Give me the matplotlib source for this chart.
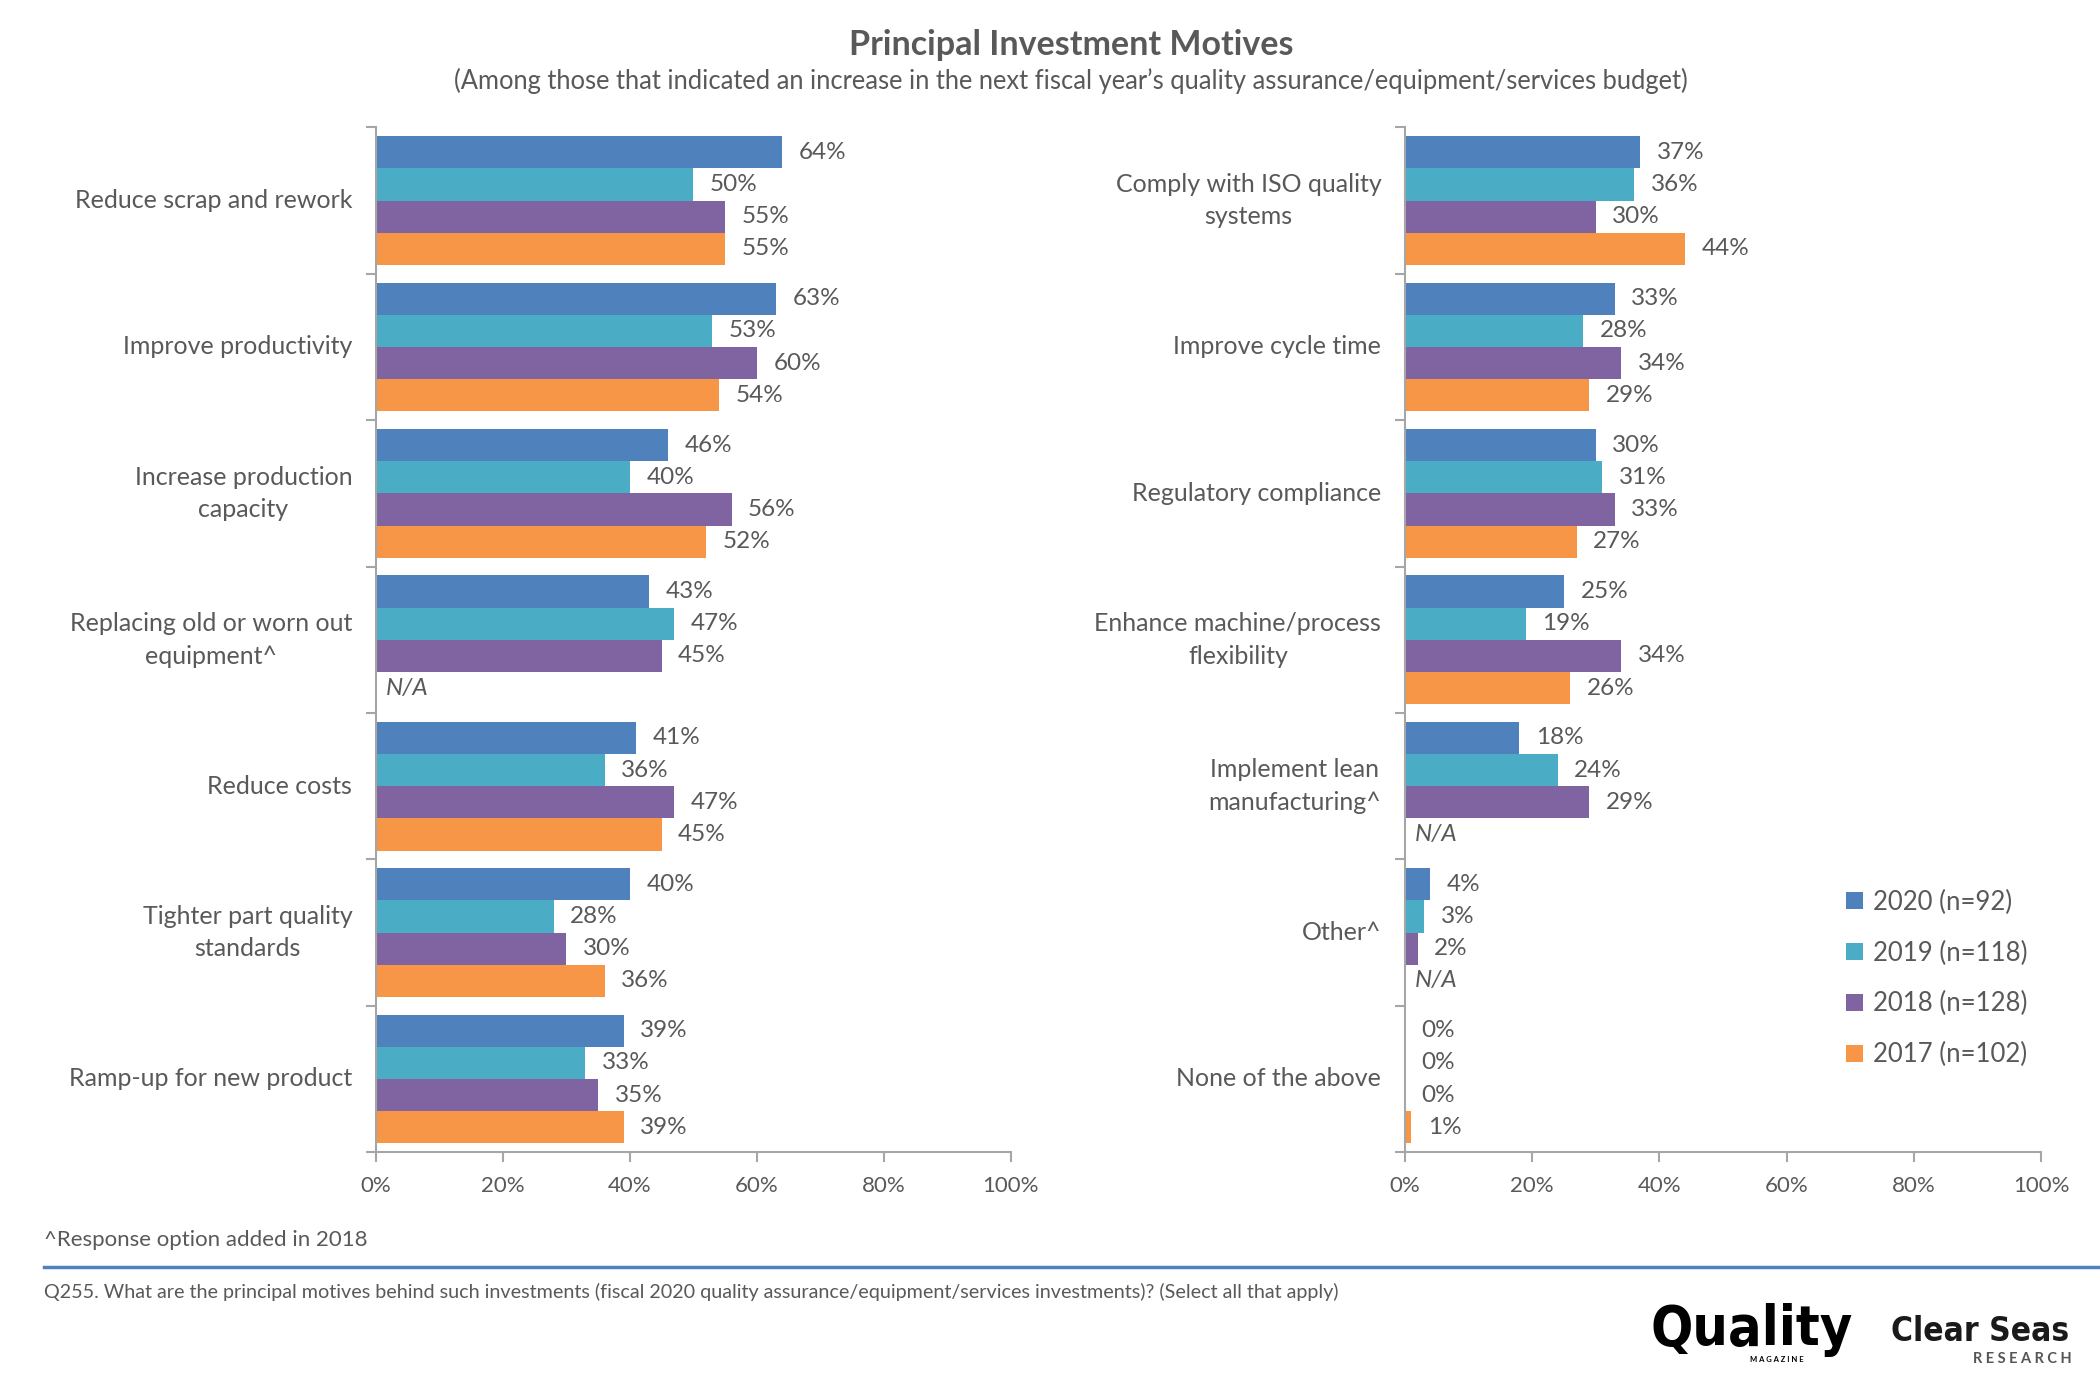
import matplotlib
matplotlib.use("Agg")
import matplotlib.pyplot as plt
from matplotlib.patches import Patch
import numpy as np

plt.rcParams['font.family'] = ['Lato', 'DejaVu Sans']

# data
years = ['2020 (n=92)', '2019 (n=118)', '2018 (n=128)', '2017 (n=102)']
colors = ['#4F81BD', '#4BACC6', '#8064A2', '#F79646']

left_cats = ['Reduce scrap and rework', 'Improve productivity', 'Increase production\ncapacity',
             'Replacing old or worn out\nequipment^', 'Reduce costs', 'Tighter part quality\nstandards',
             'Ramp-up for new product']
left_2020 = [64, 63, 46, 43, 41, 40, 39]
left_2019 = [50, 53, 40, 47, 36, 28, 33]
left_2018 = [55, 60, 56, 45, 47, 30, 35]
left_2017 = [55, 54, 52, None, 45, 36, 39]

right_cats = ['Comply with ISO quality\nsystems', 'Improve cycle time', 'Regulatory compliance',
              'Enhance machine/process\nflexibility', 'Implement lean\nmanufacturing^', 'Other^',
              'None of the above']
right_2020 = [37, 33, 30, 25, 18, 4, 0]
right_2019 = [36, 28, 31, 19, 24, 3, 0]
right_2018 = [30, 34, 33, 34, 29, 2, 0]
right_2017 = [44, 29, 27, 26, None, None, 1]

grey = '#595959'
axis_grey = '#A6A6A6'


def draw_panel(ax, cats, series):
    n = len(cats)
    pos = np.arange(n)
    h = 0.22
    offsets = [-1.5 * h, -0.5 * h, 0.5 * h, 1.5 * h]
    for s, vals in enumerate(series):
        for i, v in enumerate(vals):
            y = pos[i] + offsets[s]
            if v is None:
                ax.text(1.5, y, 'N/A', va='center', ha='left', fontsize=17.5,
                        style='italic', color=grey)
                continue
            ax.barh(y, v, height=h, color=colors[s], edgecolor='none')
            ax.text(v + 2.6, y, '%d%%' % v, va='center', ha='left', fontsize=17.5, color=grey)
    ax.set_xlim(0, 100)
    ax.set_ylim(n - 0.5, -0.5)
    ax.set_xticks(np.arange(0, 101, 20))
    ax.set_xticklabels(['%d%%' % t for t in range(0, 101, 20)])
    ax.set_yticks(np.arange(-0.5, n, 1.0))
    ax.set_yticklabels([])
    ax.set_yticks(pos, minor=True)
    ax.set_yticklabels(cats, minor=True, fontsize=18, color=grey, va='center')
    for lab in ax.get_yticklabels(minor=True):
        lab.set_multialignment('center')
        lab.set_linespacing(1.5)
    ax.tick_params(axis='y', which='minor', length=0, pad=17)
    ax.tick_params(axis='y', which='major', length=7, color=axis_grey, width=1.5)
    ax.tick_params(axis='x', length=7, color=axis_grey, width=1.5, labelsize=16,
                   labelcolor=grey, pad=10)
    for sp in ['top', 'right']:
        ax.spines[sp].set_visible(False)
    for sp in ['left', 'bottom']:
        ax.spines[sp].set_color(axis_grey)
        ax.spines[sp].set_linewidth(1.5)


fig = plt.figure(figsize=(21, 14), dpi=100)
ax1 = fig.add_axes([0.179, 0.177, 0.3024, 0.732])
ax2 = fig.add_axes([0.669, 0.177, 0.303, 0.732])

draw_panel(ax1, left_cats, [left_2020, left_2019, left_2018, left_2017])
draw_panel(ax2, right_cats, [right_2020, right_2019, right_2018, right_2017])

handles = [Patch(facecolor=c, edgecolor='none') for c in colors]
fig.legend(handles, years, loc='upper left', bbox_to_anchor=(0.868, 0.381), frameon=False,
           fontsize=18.5, labelcolor=grey, handlelength=0.65, handleheight=0.65,
           handletextpad=0.4, labelspacing=1.0)

fig.text(0.51, 0.968, 'Principal Investment Motives', ha='center', va='center',
         fontsize=24.5, fontweight='bold', color=grey)
fig.text(0.51, 0.942, "(Among those that indicated an increase in the next fiscal year\u2019s quality assurance/equipment/services budget)",
         ha='center', va='center', fontsize=18.4, color=grey)

fig.text(0.021, 0.114, '^Response option added in 2018', ha='left', va='center',
         fontsize=16, color=grey)
fig.add_artist(plt.Line2D([0.021, 1.0], [0.095, 0.095], color='#4F81BD', linewidth=2.5))
fig.text(0.021, 0.077, 'Q255. What are the principal motives behind such investments (fiscal 2020 quality assurance/equipment/services investments)? (Select all that apply)',
         ha='left', va='center', fontsize=14.2, color=grey)

# logos as text
fig.text(0.834, 0.050, 'Quality', ha='center', va='center', fontsize=40,
         fontweight='heavy', color='black', family=['DejaVu Sans'], fontstretch='condensed')
fig.text(0.846, 0.029, 'M A G A Z I N E', ha='center', va='center', fontsize=5.5,
         fontweight='bold', color='black')
fig.text(0.943, 0.049, 'Clear Seas', ha='center', va='center', fontsize=24,
         fontweight='bold', color='#1a1a1a', family=['DejaVu Sans'], fontstretch='condensed')
fig.text(0.963, 0.029, 'R E S E A R C H', ha='center', va='center', fontsize=10.5,
         fontweight='bold', color='#555555')

fig.savefig('out.png', dpi=100)
